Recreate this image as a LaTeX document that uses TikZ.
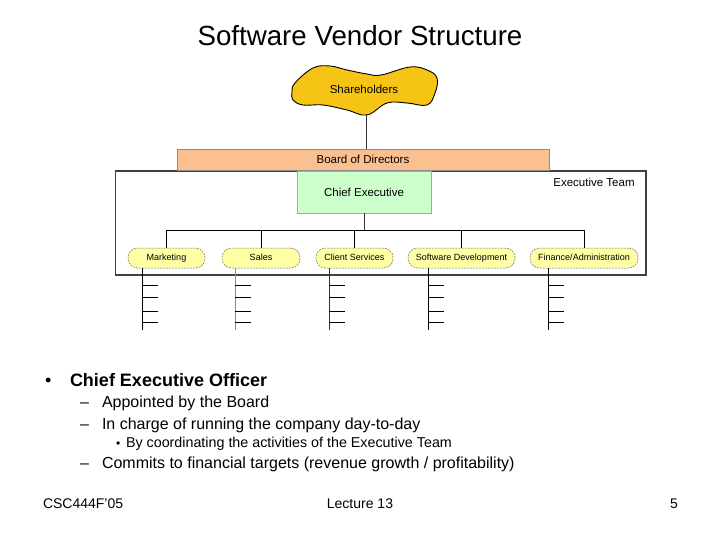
\documentclass[tikz,border=0pt]{standalone}
\usepackage{fontspec}
\setmainfont{Liberation Sans}
\definecolor{shy}{RGB}{245,196,20}
\definecolor{bodc}{RGB}{250,192,143}
\definecolor{ceoc}{RGB}{204,255,204}
\definecolor{deptc}{RGB}{255,255,165}
\begin{document}
\begin{tikzpicture}[x=1pt,y=-1pt,
  every node/.style={outer sep=0pt},
  lbl/.style={font=\fontsize{11.5}{13}\selectfont},
  teambox/.style={draw=black!75, line width=1.2pt, fill=white},
  ceobox/.style={draw=black!35, line width=0.6pt, fill=ceoc, lbl},
  bodbox/.style={draw=black!45, line width=0.6pt, fill=bodc, lbl, text height=8.3pt, text depth=0.5pt},
  dept/.style={draw=black!55, line width=0.5pt, dash pattern=on 2pt off 1pt, fill=deptc,
     rounded corners=9.5pt, minimum height=20pt, inner sep=0pt, text height=6.4pt, text depth=0.6pt,
     font=\fontsize{9}{10}\selectfont},
  conn/.style={draw=black, line width=1pt},
  thinconn/.style={draw=black!80, line width=0.7pt},
  tree/.style={line width=1pt},
  txt/.style={anchor=base west, inner sep=0pt},
  t18/.style={txt, font=\fontsize{18}{21}\selectfont},
  t16/.style={txt, font=\fontsize{16}{19}\selectfont},
  t14/.style={txt, font=\fontsize{14}{17}\selectfont},
]
\useasboundingbox (0,0) rectangle (720,540);

% title
\node[anchor=base, inner sep=0pt, font=\fontsize{27.7}{32}\selectfont] (title) at (360,46) {Software Vendor Structure};

% shareholders blob
\coordinate (shb) at (366,114);
\filldraw[fill=shy, draw=black, line width=0.9pt] plot[smooth cycle, tension=0.65] coordinates {
  (295,83) (313,68) (330,66) (347,70) (367,74) (381,75) (410,67) (427,70) (437,78)
  (435,93) (427,105) (407,103) (387,103) (367,115) (347,110) (323,105) (303,105) (293,100) (292,92)};
\node[lbl] (sh) at (364,89) {Shareholders};

% executive team frame
\node[teambox, minimum width=530.5pt, minimum height=104pt] (team) at (380.75,223) {};
\node[lbl, anchor=base, inner sep=0pt] (teamlbl) at (594,187) {Executive Team};

% chief executive and board
\node[ceobox, minimum width=134pt, minimum height=42pt] (ceo) at (364,192) {Chief Executive};
\node[bodbox, minimum width=372pt, minimum height=21pt] (bod) at (363,159.5) {Board of Directors};
\draw[thinconn] (shb) -- (shb |- bod.north);

% departments
\node[dept, minimum width=77pt] (mkt) at (166.5,258) {Marketing};
\node[dept, minimum width=78pt] (sales) at (261,258) {Sales};
\node[dept, minimum width=77pt] (cs) at (354.5,258) {Client Services};
\node[dept, minimum width=107pt] (sd) at (461.5,258) {Software Development};
\node[dept, minimum width=108pt] (fa) at (584,258) {Finance/Administration};

% bus
\coordinate (bus) at (364,231);
\draw[thinconn] (ceo.south) -- (bus);
\draw[conn] (mkt.north) -- (mkt.north |- bus) -- (fa.north |- bus) -- (fa.north);
\foreach \n in {sales,cs,sd} \draw[conn] (\n.north) -- (\n.north |- bus);

% lower trees
\foreach \n/\x/\c in {mkt/142/black, sales/235/black!45, cs/329/black!80, sd/428/black, fa/548/black} {
  \coordinate (\n-r) at (\x,330);
  \draw[tree, draw=\c] (\n.south -| \n-r) -- (\n-r);
  \foreach \y in {285,297,311,322} \draw[tree] (\x,\y) -- ++(16,0);
}

% bullet text
\node[t18] (b1) at (45,386.5) {•};
\node[t18, font=\bfseries\fontsize{18}{21}\selectfont] (l1) at (70,386.5) {Chief Executive Officer};
\node[t16] (d1) at (80,407) {–};
\node[t16] (l2) at (102,407) {Appointed by the Board};
\node[t16] (d2) at (80,429) {–};
\node[t16] (l3) at (102,429) {In charge of running the company day-to-day};
\node[t14, font=\fontsize{12}{14}\selectfont] (b2) at (116,447) {•};
\node[t14, font=\fontsize{14.3}{17}\selectfont] (l4) at (126,447) {By coordinating the activities of the Executive Team};
\node[t16] (d3) at (80,468) {–};
\node[t16] (l5) at (102,468) {Commits to financial targets (revenue growth / profitability)};

% footer
\node[t14] (f1) at (43,508) {CSC444F'05};
\node[t14, anchor=base] (f2) at (360,508) {Lecture 13};
\node[t14, anchor=base east] (f3) at (678,508) {5};
\end{tikzpicture}
\end{document}
